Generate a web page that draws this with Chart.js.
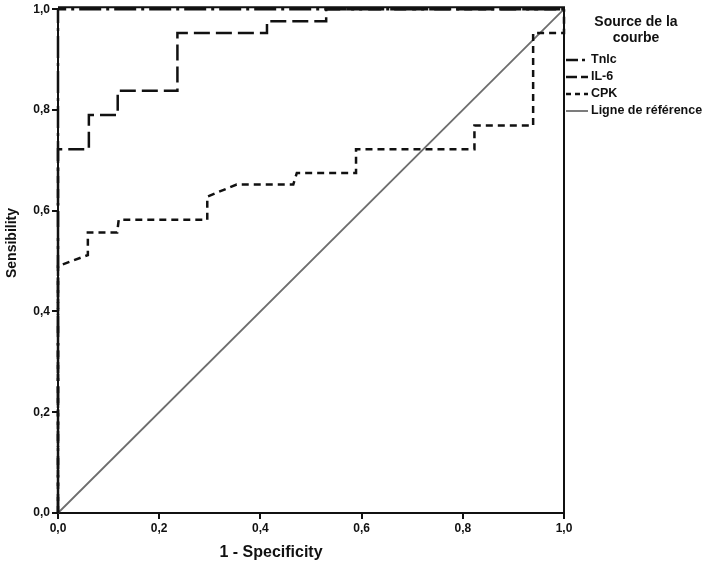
<!DOCTYPE html>
<html lang="fr">
<head>
  <meta charset="UTF-8" />
  <title>Courbe ROC</title>
  <script src="https://cdn.jsdelivr.net/npm/chart.js"></script>
  <style>
    body {
      margin: 0;
      background: #fff;
    }
    #roc {
      display: block;
    }
  </style>
</head>
<body>
  <canvas id="roc" width="708" height="573"></canvas>

  <script>
    // values (1 - specificity, sensibility)
    const tnlcX = [0, 0, 1];
    const tnlcY = [0, 1, 1];

    const il6X = [0, 0, 0.061, 0.061, 0.118, 0.118, 0.236, 0.236, 0.413, 0.413, 0.53, 0.53, 1];
    const il6Y = [0, 0.722, 0.722, 0.79, 0.79, 0.838, 0.838, 0.953, 0.953, 0.976, 0.976, 1, 1];

    const cpkX = [0, 0, 0.059, 0.059, 0.117, 0.12, 0.295, 0.295, 0.353, 0.465, 0.472, 0.589, 0.589, 0.823, 0.823, 0.939, 0.939, 1, 1];
    const cpkY = [0, 0.49, 0.512, 0.557, 0.557, 0.582, 0.582, 0.628, 0.652, 0.652, 0.675, 0.675, 0.722, 0.722, 0.769, 0.769, 0.953, 0.953, 1];

    const refX = [0, 1];
    const refY = [0, 1];

    const axisTicks = [0, 0.2, 0.4, 0.6, 0.8, 1.0];

    function toPoints(xs, ys) {
      return xs.map((x, i) => ({ x: x, y: ys[i] }));
    }

    const ink = '#111';
    const fontFamily = "'Liberation Sans', Arial, sans-serif";

    const series = [
      { label: 'Tnlc', data: toPoints(tnlcX, tnlcY), color: ink, width: 2.5, dash: [22, 5, 3, 5] },
      { label: 'IL-6', data: toPoints(il6X, il6Y), color: ink, width: 2.5, dash: [16, 6] },
      { label: 'CPK', data: toPoints(cpkX, cpkY), color: ink, width: 2.5, dash: [7, 5] },
      { label: 'Ligne de référence', data: toPoints(refX, refY), color: '#6e6e6e', width: 1.8, dash: [] }
    ];

    // frame, axis titles and legend drawn on top
    const decor = {
      id: 'decor',
      afterDraw(chart) {
        const c = chart.ctx;
        const a = chart.chartArea;
        c.save();
        c.strokeStyle = ink;
        c.lineWidth = 2;
        c.setLineDash([]);
        c.beginPath();
        c.moveTo(a.left, a.top - 2);
        c.lineTo(a.right, a.top - 2);
        c.lineTo(a.right, a.bottom);
        c.stroke();

        c.fillStyle = ink;
        c.textAlign = 'center';
        c.textBaseline = 'middle';
        c.font = 'bold 16px ' + fontFamily;
        c.fillText('1 - Specificity', 271, 553);

        c.save();
        c.translate(12, 243);
        c.rotate(-Math.PI / 2);
        c.font = 'bold 14px ' + fontFamily;
        c.fillText('Sensibility', 0, 0);
        c.restore();

        c.font = 'bold 14px ' + fontFamily;
        c.fillText('Source de la', 636, 22);
        c.fillText('courbe', 636, 38);

        // legend samples use short versions of each dash pattern
        const rows = [60, 77, 94, 111];
        const sampleDash = [[12, 4, 3, 4], [11, 4], [5, 4], []];
        c.textAlign = 'left';
        c.font = 'bold 12.5px ' + fontFamily;
        chart.data.datasets.forEach((ds, i) => {
          const y = rows[i];
          c.strokeStyle = ds.borderColor;
          c.lineWidth = ds.borderWidth;
          c.setLineDash(sampleDash[i]);
          c.beginPath();
          c.moveTo(566, y);
          c.lineTo(588, y);
          c.stroke();
          c.fillStyle = ink;
          c.fillText(ds.label, 591, y);
        });
        c.restore();
      }
    };

    const chart = new Chart(document.getElementById('roc'), {
      type: 'scatter',
      data: {
        datasets: series.map(s => ({
          label: s.label,
          data: s.data,
          showLine: true,
          borderColor: s.color,
          backgroundColor: s.color,
          borderWidth: s.width,
          borderDash: s.dash,
          pointRadius: 0,
          tension: 0,
          clip: false
        }))
      },
      options: {
        responsive: false,
        animation: false,
        layout: { padding: { left: 0, right: 144, top: 6, bottom: 0 } },
        plugins: {
          legend: { display: false },
          tooltip: { enabled: false }
        },
        scales: {
          x: {
            type: 'linear',
            min: 0,
            max: 1,
            afterBuildTicks: scale => { scale.ticks = axisTicks.map(v => ({ value: v })); },
            afterFit: scale => { scale.height = 60; },
            ticks: {
              color: ink,
              padding: 2,
              font: { family: fontFamily, size: 12, weight: 'bold' },
              callback: v => v.toFixed(1).replace('.', ',')
            },
            grid: { drawOnChartArea: false, drawTicks: true, tickLength: 6, color: ink, lineWidth: 2 },
            border: { color: ink, width: 2 }
          },
          y: {
            type: 'linear',
            min: 0,
            max: 1,
            afterBuildTicks: scale => { scale.ticks = axisTicks.map(v => ({ value: v })); },
            afterFit: scale => { scale.width = 58; },
            ticks: {
              color: ink,
              padding: 2,
              font: { family: fontFamily, size: 12, weight: 'bold' },
              callback: v => v.toFixed(1).replace('.', ',')
            },
            grid: { drawOnChartArea: false, drawTicks: true, tickLength: 6, color: ink, lineWidth: 2 },
            border: { color: ink, width: 2 }
          }
        }
      },
      plugins: [decor]
    });
  </script>
</body>
</html>
